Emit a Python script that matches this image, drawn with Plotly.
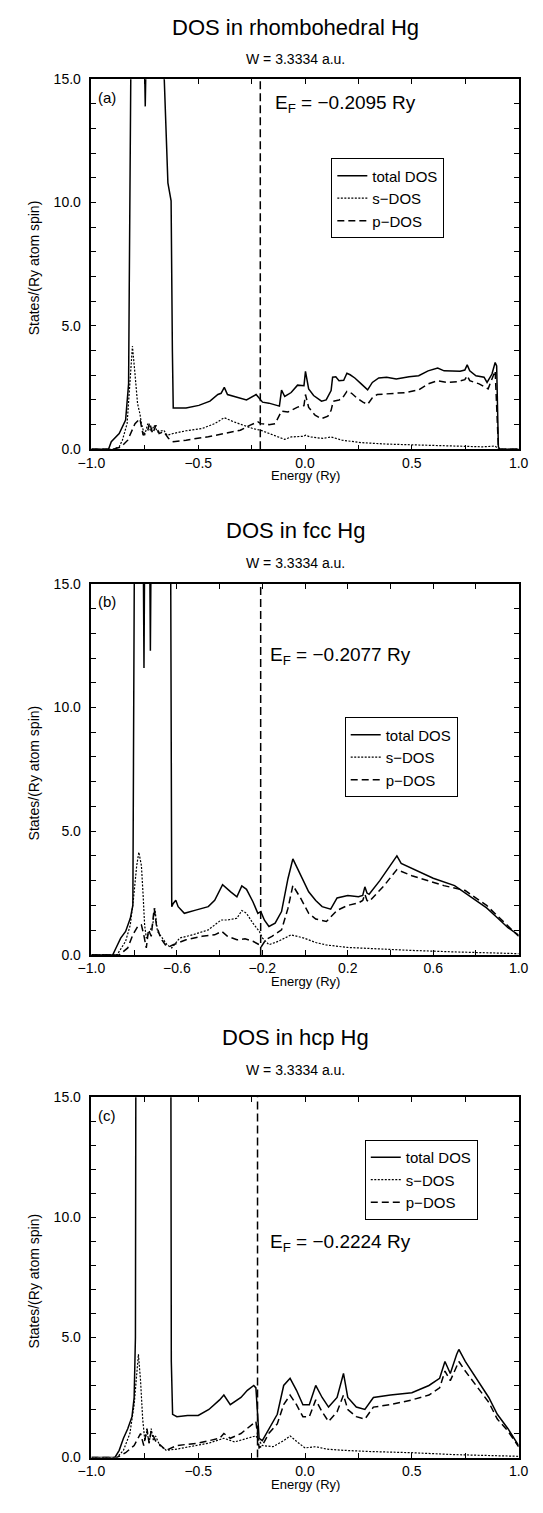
import plotly.graph_objects as go

W, H = 543, 1513

# ---------------- data ----------------
titles = ["DOS in rhombohedral Hg", "DOS in fcc Hg", "DOS in hcp Hg"]
subtitle = "W = 3.3334 a.u."
panel_labels = ["(a)", "(b)", "(c)"]
fermi_energies = [-0.2095, -0.2077, -0.2224]
legend_names = ["total DOS", "s\u2212DOS", "p\u2212DOS"]

# panel (a) rhombohedral
a_tot_E = [-1.0, -0.92, -0.907, -0.87, -0.84, -0.826, -0.823, -0.815, -0.752, -0.748, -0.744, -0.659, -0.642,
           -0.627, -0.621, -0.617, -0.557, -0.497, -0.445, -0.408, -0.393, -0.378, -0.363, -0.333, -0.303, -0.274,
           -0.229, -0.199, -0.169, -0.14, -0.12, -0.11, -0.095, -0.065, -0.035, -0.005, 0.002, 0.017, 0.04, 0.077,
           0.099, 0.122, 0.129, 0.144, 0.159, 0.181, 0.196, 0.211, 0.233, 0.263, 0.293, 0.315, 0.345, 0.382, 0.427,
           0.487, 0.532, 0.576, 0.621, 0.651, 0.681, 0.726, 0.748, 0.759, 0.771, 0.80, 0.838, 0.852, 0.875, 0.89,
           0.897, 0.905, 0.912, 1.0]
a_tot = [0, 0, 0.31, 0.64, 1.18, 2.65, 6.4, 16, 16, 13.9, 16, 15, 10.8,
         10.07, 4.0, 1.67, 1.67, 1.78, 1.95, 2.22, 2.27, 2.51, 2.22, 2.14, 2.09, 2.0,
         2.22, 1.91, 1.87, 1.78, 1.75, 2.4, 2.14, 2.3, 2.6, 2.58, 3.16, 2.45, 2.18, 1.95,
         2.0, 2.38, 2.92, 2.94, 2.78, 2.8, 3.08, 3.02, 2.89, 2.65, 2.41, 2.71, 2.89, 2.92, 2.85,
         2.94, 2.98, 3.18, 3.29, 3.18, 3.16, 3.16, 3.21, 3.42, 3.18, 2.98, 2.92, 2.71, 3.05, 3.52,
         3.38, 0.1, 0, 0]
a_s_E = [-1.0, -0.9, -0.87, -0.855, -0.833, -0.818, -0.808, -0.796, -0.784, -0.773, -0.766, -0.751, -0.736,
         -0.721, -0.706, -0.691, -0.661, -0.646, -0.617, -0.557, -0.482, -0.423, -0.378, -0.333, -0.289, -0.244,
         -0.207, -0.169, -0.14, -0.095, -0.065, -0.005, 0.002, 0.025, 0.084, 0.122, 0.173, 0.263, 0.382, 0.532,
         0.681, 0.83, 0.89, 0.905, 0.915, 1.0]
a_s = [0, 0, 0.1, 0.37, 1.04, 3.05, 4.18, 3.05, 1.85, 1.44, 1.04, 0.57, 1.04,
       0.71, 0.97, 0.71, 0.77, 0.57, 0.64, 0.75, 0.84, 1.04, 1.28, 1.11, 0.97, 0.84,
       0.77, 0.64, 0.57, 0.40, 0.5, 0.53, 0.57, 0.5, 0.44, 0.5, 0.37, 0.27, 0.21, 0.17,
       0.13, 0.1, 0.13, 0.02, 0, 0]
a_p_E = [-1.0, -0.9, -0.86, -0.83, -0.796, -0.773, -0.758, -0.736, -0.728, -0.713, -0.698, -0.683, -0.661,
         -0.639, -0.617, -0.557, -0.453, -0.378, -0.303, -0.259, -0.221, -0.207, -0.169, -0.14, -0.11, -0.08,
         -0.035, -0.005, 0.002, 0.017, 0.047, 0.077, 0.107, 0.122, 0.132, 0.159, 0.173, 0.196, 0.218, 0.241,
         0.271, 0.293, 0.315, 0.338, 0.382, 0.427, 0.472, 0.532, 0.576, 0.621, 0.666, 0.711, 0.748, 0.759,
         0.771, 0.815, 0.845, 0.857, 0.875, 0.89, 0.905, 0.912, 1.0]
a_p = [0, 0, 0.1, 0.37, 1.04, 1.24, 0.57, 0.77, 1.08, 0.64, 0.97, 0.64, 0.71,
       0.44, 0.31, 0.37, 0.51, 0.64, 0.77, 0.97, 1.11, 1.04, 1.0, 1.04, 1.55, 1.51,
       1.71, 1.77, 2.22, 1.7, 1.38, 1.24, 1.34, 1.58, 1.95, 2.0, 2.05, 2.35, 2.27, 2.09,
       1.91, 1.82, 2.09, 2.22, 2.25, 2.27, 2.3, 2.41, 2.65, 2.78, 2.71, 2.74, 2.82, 2.98,
       2.78, 2.65, 2.51, 2.45, 2.85, 3.18, 0.1, 0, 0]

# panel (b) fcc
b_tot_E = [-1.0, -0.90, -0.885, -0.863, -0.84, -0.818, -0.806, -0.799, -0.757, -0.754, -0.751, -0.727, -0.724,
           -0.721, -0.629, -0.624, -0.617, -0.605, -0.594, -0.565, -0.512, -0.453, -0.423, -0.386, -0.348, -0.319,
           -0.296, -0.274, -0.244, -0.221, -0.207, -0.19, -0.169, -0.14, -0.11, -0.08, -0.057, -0.02, 0.017, 0.05,
           0.08, 0.12, 0.15, 0.2, 0.25, 0.27, 0.28, 0.29, 0.3, 0.35, 0.4, 0.43, 0.45, 0.5, 0.6, 0.7, 0.8, 0.85,
           0.9, 0.95, 1.0]
b_tot = [0, 0, 0.28, 0.68, 0.95, 1.48, 2.0, 16, 16, 11.6, 16, 16, 12.3,
         16, 16, 1.95, 2.08, 2.21, 1.95, 1.68, 1.81, 1.95, 2.21, 2.84, 2.55, 2.35,
         2.79, 2.65, 2.15, 1.68, 1.75, 1.4, 1.15, 1.28, 1.75, 3.08, 3.88, 3.21, 2.55, 2.2,
         1.95, 1.85, 2.3, 2.4, 2.35, 2.4, 2.75, 2.5, 2.45, 3.0, 3.6, 4.0, 3.7, 3.5, 3.1, 2.8, 2.2, 1.9,
         1.5, 1.1, 0.8]
b_s_E = [-1.0, -0.88, -0.84, -0.818, -0.803, -0.788, -0.778, -0.766, -0.758, -0.751, -0.743, -0.728, -0.713,
         -0.703, -0.691, -0.668, -0.646, -0.624, -0.587, -0.527, -0.453, -0.393, -0.363, -0.319, -0.296, -0.274,
         -0.244, -0.214, -0.199, -0.169, -0.125, -0.065, -0.005, 0.05, 0.1, 0.2, 0.3, 0.5, 0.7, 0.85, 1.0]
b_s = [0, 0, 0.55, 1.21, 2.28, 3.61, 4.15, 3.61, 2.41, 1.21, 0.68, 0.95, 1.21,
       1.88, 0.95, 0.68, 0.41, 0.28, 0.68, 0.81, 1.01, 1.41, 1.41, 1.48, 1.79, 1.68,
       1.28, 0.95, 0.68, 0.41, 0.55, 0.81, 0.68, 0.5, 0.4, 0.3, 0.25, 0.18, 0.12, 0.08, 0.05]
b_p_E = [-1.0, -0.87, -0.83, -0.806, -0.783, -0.766, -0.755, -0.743, -0.733, -0.72, -0.713, -0.706, -0.696,
         -0.676, -0.654, -0.631, -0.617, -0.557, -0.482, -0.423, -0.39, -0.363, -0.319, -0.281, -0.244, -0.214,
         -0.207, -0.184, -0.155, -0.11, -0.08, -0.057, -0.02, 0.017, 0.05, 0.1, 0.15, 0.2, 0.25, 0.27, 0.28,
         0.29, 0.3, 0.37, 0.43, 0.5, 0.65, 0.75, 0.85, 0.92, 1.0]
b_p = [0, 0, 0.28, 0.81, 1.15, 1.21, 0.81, 0.28, 1.01, 0.75, 1.35, 1.88, 1.21,
       0.68, 0.41, 0.35, 0.41, 0.61, 0.75, 0.81, 0.95, 0.75, 0.61, 0.65, 0.55, 0.41,
       0.3, 0.61, 0.75, 1.01, 1.88, 2.81, 2.28, 1.68, 1.45, 1.35, 1.8, 2.0, 2.1, 2.2, 2.45,
       2.2, 2.15, 2.8, 3.45, 3.2, 2.8, 2.6, 2.0, 1.4, 0.75]

# panel (c) hcp
c_tot_E = [-1.0, -0.89, -0.87, -0.85, -0.83, -0.81, -0.80, -0.794, -0.792, -0.628, -0.626, -0.62, -0.6, -0.55,
           -0.5, -0.45, -0.4, -0.38, -0.35, -0.3, -0.27, -0.24, -0.23, -0.215, -0.2, -0.17, -0.13, -0.1, -0.07,
           -0.04, -0.01, 0.02, 0.05, 0.08, 0.11, 0.15, 0.18, 0.2, 0.24, 0.28, 0.32, 0.4, 0.5, 0.58, 0.63, 0.655,
           0.68, 0.71, 0.72, 0.75, 0.8, 0.86, 0.9, 0.95, 1.0]
c_tot = [0, 0, 0.3, 0.8, 1.2, 1.7, 2.5, 5.0, 16, 16, 4.0, 1.8, 1.7, 1.75,
         1.75, 2.0, 2.4, 2.6, 2.2, 2.5, 2.8, 3.0, 2.9, 0.8, 0.7, 1.2, 1.8, 3.0, 3.3,
         2.8, 2.2, 2.2, 3.0, 2.5, 2.1, 2.5, 3.5, 2.5, 2.1, 2.0, 2.5, 2.6, 2.7, 3.0, 3.3, 4.0,
         3.5, 4.3, 4.5, 4.0, 3.3, 2.5, 1.8, 1.2, 0.5]
c_s_E = [-1.0, -0.88, -0.85, -0.82, -0.8, -0.79, -0.78, -0.77, -0.76, -0.75, -0.74, -0.73, -0.72, -0.71,
         -0.7, -0.68, -0.65, -0.6, -0.5, -0.45, -0.38, -0.33, -0.27, -0.23, -0.2, -0.15, -0.1, -0.07, -0.03,
         0.0, 0.05, 0.1, 0.18, 0.3, 0.5, 0.7, 1.0]
c_s = [0, 0, 0.3, 1.0, 2.2, 3.4, 4.3, 3.2, 1.6, 0.7, 1.1, 0.6, 1.2, 0.7,
       0.9, 0.5, 0.3, 0.35, 0.5, 0.6, 0.8, 0.65, 0.8, 0.9, 0.5, 0.45, 0.7, 0.9, 0.6,
       0.4, 0.45, 0.35, 0.3, 0.25, 0.2, 0.12, 0.05]
c_p_E = [-1.0, -0.88, -0.84, -0.8, -0.77, -0.755, -0.74, -0.73, -0.72, -0.7, -0.65, -0.6, -0.5, -0.45, -0.4,
         -0.38, -0.35, -0.3, -0.27, -0.24, -0.23, -0.215, -0.2, -0.17, -0.13, -0.1, -0.07, -0.04, -0.01, 0.02,
         0.05, 0.08, 0.11, 0.15, 0.18, 0.2, 0.24, 0.28, 0.32, 0.4, 0.5, 0.58, 0.63, 0.655, 0.68, 0.71, 0.72,
         0.75, 0.8, 0.86, 0.9, 0.95, 1.0]
c_p = [0, 0, 0.2, 0.5, 1.0, 0.5, 1.2, 0.6, 1.1, 0.7, 0.3, 0.5, 0.6, 0.7, 0.8,
       1.0, 0.8, 1.0, 1.2, 1.4, 1.5, 0.4, 0.5, 1.0, 1.4, 2.2, 2.6, 2.2, 1.7, 1.7,
       2.4, 1.9, 1.5, 1.9, 2.6, 2.0, 1.7, 1.6, 2.1, 2.2, 2.4, 2.6, 2.9, 3.6, 3.2, 3.8, 4.0,
       3.6, 3.0, 2.3, 1.6, 1.1, 0.45]

x_tick_sets = [
    dict(tick0=-1.0, dtick=0.5, minor=0.25),
    dict(tick0=-1.0, dtick=0.4, minor=0.2),
    dict(tick0=-1.0, dtick=0.5, minor=0.25),
]
y_range = [0, 15]

# ---------------- layout geometry (pixels) ----------------
PLOT_L, PLOT_R = 81, 528
panel_tops = [72, 582, 1101]
panel_bots = [446, 957, 1465]
title_y = [20, 528, 1040]
sub_y = [52, 561, 1073]
ef_text_pos = [(271, 97), (266, 655), (266, 1248)]
legend_pos = [(332, 152), (346, 717), (367, 1144)]

def px(x):
    return x / W

def py(y):
    return 1 - y / H

FONT = "Liberation Sans, Arial, Helvetica, sans-serif"

fig = go.Figure()
panels = [
    (a_tot_E, a_tot, a_s_E, a_s, a_p_E, a_p),
    (b_tot_E, b_tot, b_s_E, b_s, b_p_E, b_p),
    (c_tot_E, c_tot, c_s_E, c_s, c_p_E, c_p),
]
styles = [dict(dash="solid", width=1.5), dict(dash="2px,1.5px", width=1.2), dict(dash="7px,4px", width=1.5)]

annotations = []
shapes = []
for i, (tE, tv, sE, sv, pE, pv) in enumerate(panels):
    sfx = "" if i == 0 else str(i + 1)
    xa, ya = "x" + sfx, "y" + sfx
    leg = "legend" + sfx
    for (E, v), name, st in zip([(tE, tv), (sE, sv), (pE, pv)], legend_names, styles):
        fig.add_trace(go.Scatter(x=E, y=v, mode="lines", name=name, xaxis=xa, yaxis=ya, legend=leg,
                                 line=dict(color="black", width=st["width"], dash=st["dash"])))
    tk = x_tick_sets[i]
    axis_common = dict(showline=True, linecolor="black", linewidth=1.5, mirror="ticks", ticks="inside",
                       ticklen=5, tickwidth=1, tickcolor="black", showgrid=False, zeroline=False,
                       tickfont=dict(family=FONT, size=14, color="black"))
    fig.update_layout(**{
        "xaxis" + sfx: dict(domain=[px(PLOT_L), px(PLOT_R)], range=[-1, 1], anchor=ya,
                            tickmode="linear", tick0=tk["tick0"], dtick=tk["dtick"], tickformat=".1f",
                            minor=dict(dtick=tk["minor"], ticks="inside", ticklen=5, tickcolor="black",
                                       showgrid=False),
                            **axis_common),
        "yaxis" + sfx: dict(domain=[py(panel_bots[i]), py(panel_tops[i])], range=y_range, anchor=xa,
                            tickmode="linear", tick0=0, dtick=5, tickformat=".1f", ticklabelstandoff=6,
                            minor=dict(dtick=1, ticks="inside", ticklen=5, tickcolor="black", showgrid=False),
                            **axis_common),
        leg: dict(x=px(legend_pos[i][0]), y=py(legend_pos[i][1]), xanchor="left", yanchor="top",
                  bordercolor="black", borderwidth=1, bgcolor="white",
                  font=dict(family=FONT, size=15, color="black"), tracegroupgap=0),
    })
    # Fermi level line
    shapes.append(dict(type="line", xref=xa, yref=ya + " domain", x0=fermi_energies[i], x1=fermi_energies[i],
                       y0=0, y1=1, line=dict(color="black", width=1.5, dash="8px,4px")))
    # texts
    annotations.append(dict(text=titles[i], xref="paper", yref="paper", x=px(294), y=py(title_y[i]),
                            showarrow=False, xanchor="center", yanchor="middle",
                            font=dict(family=FONT, size=22, color="black")))
    annotations.append(dict(text=subtitle, xref="paper", yref="paper", x=px(294), y=py(sub_y[i]),
                            showarrow=False, xanchor="center", yanchor="middle",
                            font=dict(family=FONT, size=14, color="black")))
    annotations.append(dict(text=panel_labels[i], xref="paper", yref="paper", x=px(86),
                            y=py(panel_tops[i] + 18), showarrow=False, xanchor="left", yanchor="middle",
                            font=dict(family=FONT, size=15, color="black")))
    ef_str = "E<sub>F</sub> = \u2212%.4f Ry" % abs(fermi_energies[i])
    annotations.append(dict(text=ef_str, xref="paper", yref="paper", x=px(ef_text_pos[i][0]),
                            y=py(ef_text_pos[i][1]), showarrow=False, xanchor="left", yanchor="middle",
                            font=dict(family=FONT, size=19, color="black")))
    annotations.append(dict(text="Energy (Ry)", xref="paper", yref="paper", x=px((PLOT_L + PLOT_R) / 2),
                            y=py(panel_bots[i] + 27), showarrow=False, xanchor="center", yanchor="middle",
                            font=dict(family=FONT, size=13, color="black")))
    annotations.append(dict(text="States/(Ry atom spin)", xref="paper", yref="paper", x=px(21),
                            y=py((panel_tops[i] + panel_bots[i]) / 2 + 4), showarrow=False, textangle=-90,
                            xanchor="center", yanchor="middle",
                            font=dict(family=FONT, size=14, color="black")))

fig.update_layout(width=W, height=H, margin=dict(l=0, r=0, t=0, b=0), paper_bgcolor="white",
                  plot_bgcolor="white", annotations=annotations, shapes=shapes, showlegend=True)
fig.write_html("out.html")
